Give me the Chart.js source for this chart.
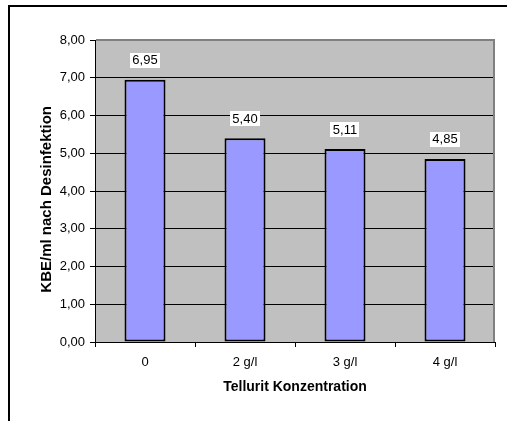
<!DOCTYPE html>
<html><head><meta charset="utf-8">
<script src="https://cdn.jsdelivr.net/npm/chart.js@4/dist/chart.umd.min.js"></script>
<style>html,body{margin:0;padding:0;background:#fff}canvas{display:block}</style>
</head><body>
<canvas id="c" width="507" height="421"></canvas>
<script>
const categories = ['0', '2 g/l', '3 g/l', '4 g/l'];
const values = [6.95, 5.40, 5.11, 4.85];
const yMin = 0, yMax = 8, yStep = 1;
const yTitle = 'KBE/ml nach Desinfektion    ';
const xTitle = 'Tellurit Konzentration';

const fmt = v => v.toFixed(2).replace('.', ',');
const FONT = '"Liberation Sans", Arial, sans-serif';

const framePlugin = {
  id: 'frame',
  beforeDraw(chart) {
    const ctx = chart.ctx, a = chart.chartArea;
    ctx.save();
    ctx.fillStyle = '#fff';
    ctx.fillRect(0, 0, chart.width, chart.height);
    ctx.fillStyle = '#000';
    ctx.fillRect(8, 5, chart.width - 8, 2);
    ctx.fillRect(8, 5, 2, chart.height - 5);
    ctx.fillStyle = '#C0C0C0';
    ctx.fillRect(a.left, a.top, a.right - a.left, a.bottom - a.top);
    ctx.restore();
  },
  afterDatasetsDraw(chart) {
    const ctx = chart.ctx, a = chart.chartArea;
    ctx.save();
    ctx.strokeStyle = '#808080';
    ctx.lineWidth = 2;
    ctx.beginPath();
    ctx.moveTo(a.left + 1, a.top);
    ctx.lineTo(a.right - 1, a.top);
    ctx.lineTo(a.right - 1, a.bottom);
    ctx.stroke();
    // data labels
    const meta = chart.getDatasetMeta(0);
    ctx.font = '13px ' + FONT;
    ctx.textAlign = 'center';
    ctx.textBaseline = 'middle';
    meta.data.forEach((bar, i) => {
      const txt = fmt(chart.data.datasets[0].data[i]);
      const w = ctx.measureText(txt).width + 5;
      const cy = bar.y - 19.5;
      ctx.fillStyle = '#fff';
      ctx.fillRect(Math.round(bar.x - w / 2), Math.round(cy - 7.5), Math.round(w), 15);
      ctx.fillStyle = '#000';
      ctx.fillText(txt, bar.x, cy + 0.5);
    });
    ctx.restore();
  }
};

new Chart(document.getElementById('c'), {
  type: 'bar',
  data: {
    labels: categories,
    datasets: [{
      data: values,
      backgroundColor: '#9999FF',
      borderColor: '#000',
      borderWidth: 2,
      borderSkipped: false,
      barPercentage: 0.41,
      categoryPercentage: 1
    }]
  },
  options: {
    responsive: false,
    animation: false,
    devicePixelRatio: 1,
    layout: { padding: { left: 30, right: 12, top: 40, bottom: 0 } },
    plugins: { legend: { display: false }, tooltip: { enabled: false } },
    scales: {
      x: {
        afterFit(s) { s.height = 79; },
        grid: { drawOnChartArea: false, drawTicks: true, tickLength: 5, color: '#000', offset: true },
        border: { color: '#000', width: 1 },
        ticks: { color: '#000', font: { family: FONT, size: 13 }, padding: 8 },
        title: { display: true, text: xTitle, color: '#000', font: { family: FONT, size: 14, weight: 'bold' }, padding: { top: 0, bottom: 25.6 } }
      },
      y: {
        min: yMin, max: yMax,
        afterFit(s) { s.width = 65; },
        grid: { color: '#000', lineWidth: 1, tickLength: 5, drawTicks: true },
        border: { color: '#000', width: 1 },
        ticks: { stepSize: yStep, color: '#000', font: { family: FONT, size: 13 }, padding: 5, callback: v => fmt(v) },
        title: { display: true, text: yTitle, color: '#000', font: { family: FONT, size: 15, weight: 'bold' }, padding: { top: 8, bottom: 0 } }
      }
    }
  },
  plugins: [framePlugin]
});
</script>
</body></html>
